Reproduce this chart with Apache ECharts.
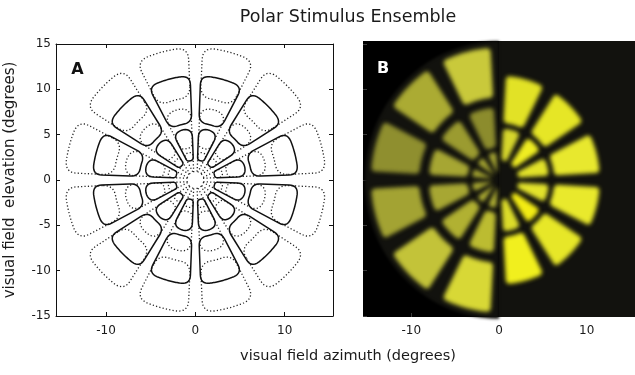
<!DOCTYPE html>
<html><head><meta charset="utf-8">
<script src="https://cdn.jsdelivr.net/npm/echarts@6/dist/echarts.min.js"></script>
<style>html,body{margin:0;padding:0;background:#fff}#c{width:635px;height:375px}</style>
</head><body><div id="c"></div>
<script>
// ---------------- data ----------------
const xTickValues = [-10, 0, 10];
const yTickValuesA = [-15, -10, -5, 0, 5, 10, 15];
const yTickValuesB = [-15, -10, -5, 0, 5, 10, 15];
const wedgeCenters = [15, 45, 75, 105, 135, 165, 195, 225, 255, 285, 315, 345];
// large ("dotted") stimulus set : [inner, outer] eccentricity (deg)
const dottedRings = [[0.5, 3.1], [3.6, 8.0], [9.1, 14.6]];
// small ("solid") stimulus set
const solidRings = [[2.2, 5.7], [6.3, 11.5]];
// panel B : left hemifield shows large set, right hemifield small set
const leftCenters = [105, 135, 165, 195, 225, 255];
const rightCenters = [75, 45, 15, -15, -45, -75];
const leftColors = [
  ['#a7a733', '#a5a531', '#a2a230', '#a8a832', '#aeae33', '#b4b434'],
  ['#8c8c2d', '#9b9b30', '#a6a633', '#a7a733', '#b1b132', '#bcbc31'],
  ['#c9c93b', '#abab33', '#8f8f2f', '#a3a333', '#c3c339', '#d8d836']
];
const rightColors = [
  ['#d6d62c', '#efed22', '#e3e32a', '#e3e32c', '#f3ec14', '#dcdc2a'],
  ['#e2e226', '#e6e626', '#e8e82e', '#e9e92c', '#e7e728', '#f1ef1e']
];
const fieldRadiusB = 15.3;
const xRangeA = [-15.6, 15.4], yRangeA = [-15, 15];
const xRangeB = [-15.5, 15.5], yRangeB = [-15.1, 15.33];

// ---------------- geometry helpers ----------------
const D = Math.PI / 180;
// wedge of half-angle `half` (already reduced by the angular gap), side lines offset by g
function wedgeOutline(r0, r1, ac, half, g, c) {
  const ta = (ac - half) * D, tb = (ac + half) * D;
  const ua = [Math.cos(ta), Math.sin(ta)], na = [-Math.sin(ta), Math.cos(ta)];
  const ub = [Math.cos(tb), Math.sin(tb)], nb = [-Math.sin(tb), Math.cos(tb)];
  const minR = g / Math.sin(half * D) + 0.15;
  r0 = Math.max(r0, minR);
  const s0 = Math.sqrt(r0 * r0 - g * g), s1 = Math.sqrt(r1 * r1 - g * g);
  const pA = s => [s * ua[0] + g * na[0], s * ua[1] + g * na[1]];
  const pB = s => [s * ub[0] - g * nb[0], s * ub[1] - g * nb[1]];
  const a0a = ta + Math.asin(g / r0), a0b = tb - Math.asin(g / r0);
  const a1a = ta + Math.asin(g / r1), a1b = tb - Math.asin(g / r1);
  const arcP = (R, t) => [R * Math.cos(t), R * Math.sin(t)];
  const cs = Math.min(c, (s1 - s0) * 0.4);
  const ci = Math.min(cs, r0 * (a0b - a0a) * 0.45);
  const co = Math.min(cs, r1 * (a1b - a1a) * 0.45);
  const pts = [];
  const quad = (p0, p1, p2, n) => {
    for (let i = 1; i < n; i++) {
      const t = i / n, u = 1 - t;
      pts.push([u * u * p0[0] + 2 * u * t * p1[0] + t * t * p2[0], u * u * p0[1] + 2 * u * t * p1[1] + t * t * p2[1]]);
    }
  };
  const arc = (R, t0, t1, n) => { for (let i = 0; i <= n; i++) pts.push(arcP(R, t0 + (t1 - t0) * i / n)); };
  pts.push(pA(s0 + ci));
  pts.push(pA(s1 - co));
  quad(pA(s1 - co), pA(s1), arcP(r1, a1a + co / r1), 8);
  arc(r1, a1a + co / r1, a1b - co / r1, 24);
  quad(arcP(r1, a1b - co / r1), pB(s1), pB(s1 - co), 8);
  pts.push(pB(s1 - co));
  pts.push(pB(s0 + ci));
  quad(pB(s0 + ci), pB(s0), arcP(r0, a0b - ci / r0), 8);
  arc(r0, a0b - ci / r0, a0a + ci / r0, 16);
  quad(arcP(r0, a0a + ci / r0), pA(s0), pA(s0 + ci), 8);
  return pts;
}

// ---------------- series data ----------------
function ringData(rings, centers) {
  const out = [];
  rings.forEach((r, ri) => centers.forEach((a, ai) => out.push([r[0], r[1], a, ri, ai])));
  return out;
}
const dataDotted = ringData(dottedRings, wedgeCenters);
const dataSolid = ringData(solidRings, wedgeCenters);
const dataLeft = ringData(dottedRings, leftCenters);
const dataRight = ringData(solidRings, rightCenters);

const SHIFT = 1200;
function outlineSeries(data, style, hg, g, c) {
  return {
    type: 'custom', xAxisIndex: 0, yAxisIndex: 0, data: data, silent: true,
    encode: { x: 2, y: 1 },
    renderItem: function (params, api) {
      const pts = wedgeOutline(api.value(0), api.value(1), api.value(2), 15 - hg, g, c).map(p => api.coord(p));
      return { type: 'polygon', shape: { points: pts }, style: Object.assign({ fill: 'none' }, style) };
    }
  };
}
function blurSeries(data, colors, hg, g, c, z) {
  return {
    type: 'custom', xAxisIndex: 1, yAxisIndex: 2, data: data, silent: true, z: z,
    encode: { x: 2, y: 1 },
    renderItem: function (params, api) {
      const col = colors[api.value(3)][api.value(4)];
      const pts = wedgeOutline(api.value(0), api.value(1), api.value(2), 15 - hg, g, c).map(p => {
        const q = api.coord(p); return [q[0] + SHIFT, q[1]];
      });
      return { type: 'polygon', shape: { points: pts },
        style: { fill: col, shadowBlur: 4.5, shadowColor: col, shadowOffsetX: -SHIFT, shadowOffsetY: 0 } };
    }
  };
}

const FONT = 'DejaVu Sans';
const chart = echarts.init(document.getElementById('c'), null, { renderer: 'canvas' });
const tickStyleA = { show: true, inside: true, length: 4, lineStyle: { color: '#111', width: 1 } };
const tickStyleB = { show: true, inside: true, length: 4, lineStyle: { color: '#3a3a3a', width: 1 } };
const labelStyle = { color: '#1a1a1a', fontSize: 12, fontFamily: FONT };
const lineA = { show: true, onZero: false, lineStyle: { color: '#111', width: 1 } };

chart.setOption({
  animation: false,
  backgroundColor: '#fff',
  grid: [
    { left: 56, top: 44, width: 277, height: 272, show: true, borderWidth: 0, backgroundColor: '#fff' },
    { left: 363, top: 41, width: 277, height: 276, show: true, borderWidth: 0, backgroundColor: '#000' }
  ],
  xAxis: [
    { gridIndex: 0, type: 'value', min: xRangeA[0], max: xRangeA[1], position: 'bottom',
      axisLine: lineA, splitLine: { show: false },
      axisTick: Object.assign({ customValues: xTickValues }, tickStyleA),
      axisLabel: Object.assign({ customValues: xTickValues, margin: 9 }, labelStyle) },
    { gridIndex: 1, type: 'value', min: xRangeB[0], max: xRangeB[1], position: 'bottom',
      axisLine: { show: false, onZero: false }, splitLine: { show: false },
      axisTick: Object.assign({ customValues: xTickValues }, tickStyleB),
      axisLabel: Object.assign({ customValues: xTickValues, margin: 8 }, labelStyle) },
    { gridIndex: 0, type: 'value', min: xRangeA[0], max: xRangeA[1], position: 'top',
      axisLine: lineA, splitLine: { show: false },
      axisTick: Object.assign({ customValues: xTickValues }, tickStyleA), axisLabel: { show: false } }
  ],
  yAxis: [
    { gridIndex: 0, type: 'value', min: yRangeA[0], max: yRangeA[1], position: 'left',
      axisLine: lineA, splitLine: { show: false },
      axisTick: Object.assign({ customValues: yTickValuesA }, tickStyleA),
      axisLabel: Object.assign({ customValues: yTickValuesA, margin: 5 }, labelStyle),
      name: 'visual field  elevation (degrees)', nameLocation: 'middle', nameGap: 38, nameRotate: 90,
      nameTextStyle: { color: '#1a1a1a', fontSize: 15, fontFamily: FONT } },
    { gridIndex: 0, type: 'value', min: yRangeA[0], max: yRangeA[1], position: 'right',
      axisLine: lineA, splitLine: { show: false },
      axisTick: Object.assign({ customValues: yTickValuesA }, tickStyleA), axisLabel: { show: false } },
    { gridIndex: 1, type: 'value', min: yRangeB[0], max: yRangeB[1], position: 'left',
      axisLine: { show: false, onZero: false }, splitLine: { show: false },
      axisTick: Object.assign({ customValues: yTickValuesB }, tickStyleB), axisLabel: { show: false } }
  ],
  graphic: [
    { type: 'text', x: 348, y: 17, style: { text: 'Polar Stimulus Ensemble', font: '17.5px "DejaVu Sans"', fill: '#1a1a1a', textAlign: 'center', textVerticalAlign: 'middle' } },
    { type: 'text', x: 348, y: 356, style: { text: 'visual field azimuth (degrees)', font: '14.5px "DejaVu Sans"', fill: '#1a1a1a', textAlign: 'center', textVerticalAlign: 'middle' } },
    { type: 'text', x: 77.5, y: 70, z: 100, style: { text: 'A', font: 'bold 16px "DejaVu Sans"', fill: '#111', textAlign: 'center', textVerticalAlign: 'middle' } },
    { type: 'text', x: 383, y: 69, z: 100, style: { text: 'B', font: 'bold 16px "DejaVu Sans"', fill: '#fff', textAlign: 'center', textVerticalAlign: 'middle' } }
  ],
  series: [
    outlineSeries(dataDotted, { stroke: '#222', lineWidth: 1.3, lineDash: [1.2, 2.2] }, 2.6, 0.15, 1.3),
    outlineSeries(dataSolid, { stroke: '#111', lineWidth: 1.5 }, 2.2, 0.15, 1.0),
    // panel B backgrounds
    { type: 'custom', xAxisIndex: 1, yAxisIndex: 2, data: [[fieldRadiusB]], silent: true, z: 1,
      renderItem: function (params, api) {
        const R = api.value(0);
        const tl = api.coord([0, yRangeB[1]]), br = api.coord([xRangeB[1], yRangeB[0]]);
        const half = [];
        for (let i = 0; i <= 90; i++) { const t = (90 + i * 2) * D; half.push(api.coord([R * Math.cos(t), R * Math.sin(t)])); }
        return { type: 'group', children: [
          { type: 'rect', shape: { x: tl[0], y: tl[1], width: br[0] - tl[0], height: br[1] - tl[1] }, style: { fill: '#12120e' } },
          { type: 'polygon', shape: { points: half.map(p => [p[0] + SHIFT, p[1]]) },
            style: { fill: '#12120e', shadowBlur: 3, shadowColor: '#12120e', shadowOffsetX: -SHIFT } }
        ] };
      } },
    blurSeries(dataLeft, leftColors, 3.2, 0.15, 0.5, 2),
    blurSeries(dataRight, rightColors, 3.2, 0.15, 0.5, 2)
  ]
});
</script>
</body></html>
